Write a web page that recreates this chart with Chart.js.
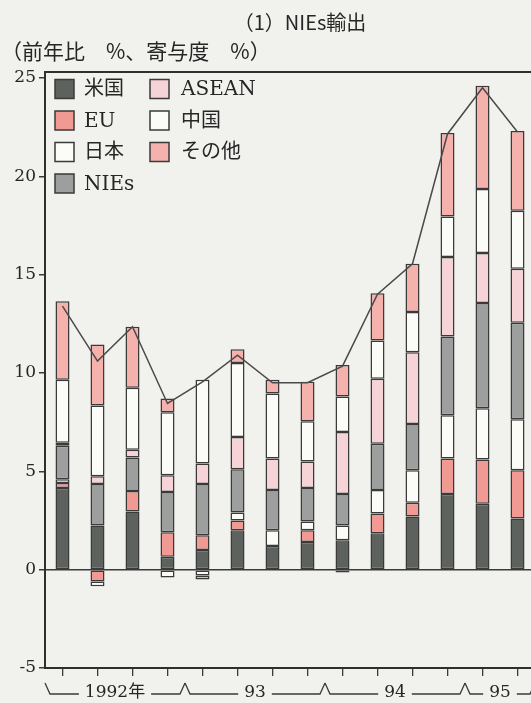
<!DOCTYPE html>
<html lang="ja">
<head>
<meta charset="utf-8">
<title>NIEs輸出</title>
<script src="https://cdn.jsdelivr.net/npm/chart.js@4.4.1/dist/chart.umd.min.js"></script>
<style>
    html, body { margin: 0; padding: 0; background: #f1f1ed; overflow: hidden; }
    #wrap { position: relative; width: 540px; height: 703px; }
</style>
</head>
<body>
<div id="wrap"><canvas id="niesChart" width="540" height="703"></canvas></div>
<script>
// Data (前年比 %, 寄与度 %)
var quarters = ['1992Q1', '1992Q2', '1992Q3', '1992Q4',
                '1993Q1', '1993Q2', '1993Q3', '1993Q4',
                '1994Q1', '1994Q2', '1994Q3', '1994Q4',
                '1995Q1', '1995Q2'];
var yearLabels = ['1992年', '93', '94', '95'];
var yTicks = [-5, 0, 5, 10, 15, 20, 25];

var usa    = [4.15, 2.25, 2.95, 0.65, 1.0, 2.0, 1.2, 1.4, 1.5, 1.85, 2.7, 3.85, 3.35, 2.6];
var eu     = [0.25, -0.6, 1.05, 1.25, 0.75, 0.5, 0, 0.6, -0.15, 1.0, 0.7, 1.8, 2.25, 2.45];
var japan  = [0.2, -0.25, 0, -0.4, -0.3, 0.4, 0.8, 0.45, 0.75, 1.2, 1.65, 2.2, 2.6, 2.6];
var nies   = [1.7, 2.1, 1.7, 2.05, 2.6, 2.2, 2.05, 1.7, 1.6, 2.35, 2.35, 4.0, 5.35, 4.9];
var asean  = [0.15, 0.4, 0.4, 0.85, 1.05, 1.65, 1.6, 1.35, 3.15, 3.3, 3.65, 4.05, 2.55, 2.75];
var china  = [3.2, 3.6, 3.15, 3.2, 4.25, 3.75, 3.3, 2.05, 1.8, 1.95, 2.05, 2.05, 3.25, 2.95];
var others = [4.0, 3.1, 3.1, 0.7, -0.2, 0.7, 0.7, 2.0, 1.6, 2.4, 2.45, 4.25, 5.25, 4.05];
var totals = [13.4, 10.6, 12.35, 8.45, 9.55, 10.9, 9.5, 9.5, 10.35, 14.0, 15.55, 22.15, 24.5, 22.25];

var edge = '#3a3a3a';
var ink = '#262626';
var serif = '"DejaVu Serif", "Noto Sans CJK JP", serif';
var gothic = '"Noto Sans CJK JP", "Noto Sans", sans-serif';

var series = [
    { label: '米国', data: usa, color: '#5d625f' },
    { label: 'EU', data: eu, color: '#f19a93' },
    { label: '日本', data: japan, color: '#fbfbf8' },
    { label: 'NIEs', data: nies, color: '#9c9f9d' },
    { label: 'ASEAN', data: asean, color: '#f6d3d6' },
    { label: '中国', data: china, color: '#fbfbf8' },
    { label: 'その他', data: others, color: '#f5b2ad' }
];

var datasets = series.map(function (s) {
    return {
        type: 'bar',
        label: s.label,
        data: s.data,
        stack: 'parts',
        order: 1,
        backgroundColor: s.color,
        borderColor: edge,
        borderWidth: 1.5,
        borderSkipped: false,
        barPercentage: 0.4,
        categoryPercentage: 1.0
    };
});
datasets.push({
    type: 'line',
    label: '合計',
    data: totals,
    stack: 'total',
    order: 0,
    borderColor: '#4a4a4a',
    borderWidth: 1.5,
    pointRadius: 0,
    tension: 0,
    fill: false
});

// Headings
var headingPlugin = {
    id: 'heading',
    afterDraw: function (chart) {
        var ctx = chart.ctx;
        ctx.save();
        ctx.fillStyle = ink;
        ctx.textBaseline = 'middle';
        ctx.font = '20px ' + gothic;
        ctx.textAlign = 'center';
        ctx.fillText('（1）NIEs輸出', 300, 22);
        ctx.font = '21px ' + gothic;
        ctx.textAlign = 'left';
        ctx.fillText('（前年比　%、寄与度　%）', 1, 51);
        ctx.restore();
    }
};

// Top and right frame lines
var framePlugin = {
    id: 'frame',
    afterDatasetsDraw: function (chart) {
        var a = chart.chartArea, ctx = chart.ctx;
        ctx.save();
        ctx.strokeStyle = '#2f2f2f';
        ctx.lineWidth = 2;
        ctx.beginPath();
        ctx.moveTo(a.left, a.top);
        ctx.lineTo(a.right, a.top);
        ctx.lineTo(a.right, a.bottom);
        ctx.stroke();
        ctx.restore();
    }
};

// Legend in two columns inside the plot
var legendPlugin = {
    id: 'boxLegend',
    afterDatasetsDraw: function (chart) {
        var ctx = chart.ctx, a = chart.chartArea;
        var size = 19, rowGap = 31.5;
        ctx.save();
        ctx.font = '20px ' + serif;
        ctx.textBaseline = 'middle';
        ctx.textAlign = 'left';
        series.forEach(function (s, i) {
            var col = i < 4 ? 0 : 1;
            var row = i < 4 ? i : i - 4;
            var bx = a.left + 10 + col * 95;
            var cy = a.top + 17 + row * rowGap;
            ctx.fillStyle = s.color;
            ctx.fillRect(bx, cy - size / 2, size, size);
            ctx.strokeStyle = edge;
            ctx.lineWidth = 1.5;
            ctx.strokeRect(bx, cy - size / 2, size, size);
            ctx.fillStyle = ink;
            ctx.fillText(s.label, bx + size + 10 + col * 2, cy + 1);
        });
        ctx.restore();
    }
};

// Year brackets under the x axis
var yearPlugin = {
    id: 'years',
    afterDraw: function (chart) {
        var x = chart.scales.x, ctx = chart.ctx;
        var base = chart.chartArea.bottom + 26, peak = base - 11;
        var groups = [];
        quarters.forEach(function (q, i) {
            var yr = q.slice(0, 4);
            var last = groups[groups.length - 1];
            if (!last || last.yr !== yr) {
                groups.push({ yr: yr, first: i, last: i });
            } else {
                last.last = i;
            }
        });
        ctx.save();
        ctx.font = '17px ' + serif;
        ctx.fillStyle = ink;
        ctx.strokeStyle = '#3a3a3a';
        ctx.lineWidth = 1.3;
        ctx.textAlign = 'center';
        ctx.textBaseline = 'middle';
        groups.forEach(function (g, k) {
            var x0 = x.getPixelForValue(g.first - 0.5);
            var x1 = x.getPixelForValue(g.last + 0.5);
            var label = yearLabels[k];
            var cx = (x0 + x1) / 2;
            var w = ctx.measureText(label).width;
            ctx.beginPath();
            ctx.moveTo(x0, peak);
            ctx.lineTo(x0 + 5, base);
            ctx.lineTo(cx - w / 2 - 6, base);
            ctx.moveTo(cx + w / 2 + 6, base);
            ctx.lineTo(x1 - 5, base);
            ctx.lineTo(x1, peak);
            ctx.stroke();
            ctx.fillText(label, cx, base - 1);
        });
        ctx.restore();
    }
};

// Chart
var ctx = document.querySelector('#niesChart').getContext('2d');
var niesChart = new Chart(ctx, {
    data: {
        labels: quarters,
        datasets: datasets
    },
    options: {
        responsive: false,
        animation: false,
        devicePixelRatio: 1,
        layout: { padding: { top: 72, right: 5, left: 0, bottom: 0 } },
        plugins: {
            legend: { display: false },
            title: { display: false },
            tooltip: { enabled: false }
        },
        scales: {
            x: {
                stacked: true,
                offset: true,
                afterFit: function (s) { s.height = 35; },
                grid: {
                    offset: false,
                    drawOnChartArea: false,
                    drawTicks: true,
                    tickLength: 8,
                    tickColor: '#3a3a3a',
                    lineWidth: 1.3
                },
                border: { display: true, color: '#2f2f2f', width: 2 },
                ticks: { display: false }
            },
            y: {
                stacked: true,
                min: -5,
                max: 25.3,
                afterFit: function (s) { s.width = 45; },
                afterBuildTicks: function (s) {
                    s.ticks = yTicks.map(function (v) { return { value: v }; });
                },
                grid: {
                    color: function (c) { return c.tick && c.tick.value === 0 ? '#3a3a3a' : 'rgba(0,0,0,0)'; },
                    lineWidth: 1.5,
                    drawTicks: true,
                    tickLength: 6,
                    tickColor: '#3a3a3a'
                },
                border: { display: true, color: '#2f2f2f', width: 2 },
                ticks: {
                    color: ink,
                    padding: 3,
                    font: { family: serif, size: 17 }
                }
            }
        }
    },
    plugins: [headingPlugin, framePlugin, legendPlugin, yearPlugin]
});
</script>
</body>
</html>
